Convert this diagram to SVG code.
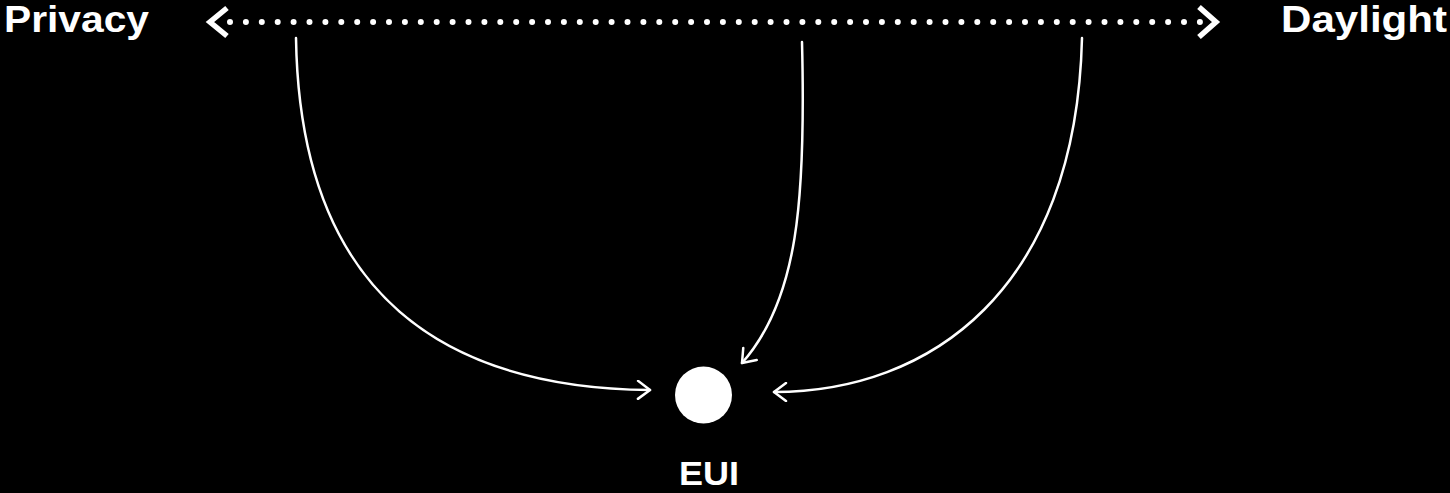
<svg xmlns="http://www.w3.org/2000/svg" width="1450" height="493" viewBox="0 0 1450 493">
<style>
.lbl{font-family:"Liberation Sans",Arial,sans-serif;font-weight:bold;fill:#fff}
.con{fill:none;stroke:#fff;stroke-width:2.5;stroke-linecap:round;stroke-linejoin:round}
.chev{fill:none;stroke:#fff;stroke-width:5.5;stroke-linecap:butt;stroke-linejoin:miter}
</style>
<defs>
<marker id="ah" viewBox="-14 -10 16 20" markerWidth="16" markerHeight="20" refX="0" refY="0" orient="auto" markerUnits="userSpaceOnUse">
<path d="M-12,-9 L0,0 L-12,9" fill="none" stroke="#fff" stroke-width="2.5" stroke-linecap="round" stroke-linejoin="round"/>
</marker>
</defs>
<rect width="1450" height="493" fill="#000"/>
<g id="privacy"><text class="lbl" x="4" y="32" font-size="36" textLength="145" lengthAdjust="spacingAndGlyphs">Privacy</text></g>
<g id="daylight"><text class="lbl" x="1281" y="32" font-size="36" textLength="166" lengthAdjust="spacingAndGlyphs">Daylight</text></g>
<g id="scale">
<line x1="230" y1="22" x2="1200" y2="22" stroke="#fff" stroke-width="6" stroke-linecap="round" stroke-dasharray="0 15.9"/>
<path class="chev" d="M227,8 L210,22 L227,36"/>
<path class="chev" d="M1199,7 L1216,22 L1199,37"/>
</g>
<g id="eui">
<circle cx="703.5" cy="395" r="28.5" fill="#fff"/>
<text class="lbl" x="709" y="485" font-size="34" text-anchor="middle" textLength="60" lengthAdjust="spacingAndGlyphs">EUI</text>
</g>
<g id="connectors">
<path class="con" d="M296,38 C300,300 450,388 650,390" marker-end="url(#ah)"/>
<path class="con" d="M802,42 C806,200 798,300 742,363" marker-end="url(#ah)"/>
<path class="con" d="M1082,38 C1076,290 930,392 774,392" marker-end="url(#ah)"/>
</g>
</svg>
